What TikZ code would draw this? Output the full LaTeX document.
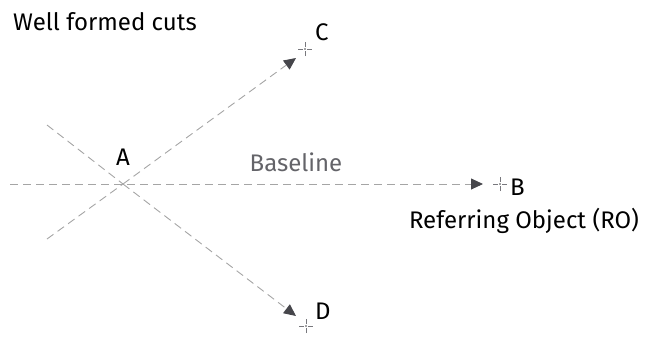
\documentclass[tikz,border=0pt]{standalone}
\usepackage{fontspec}
\setmainfont{Fira Sans}
\usetikzlibrary{arrows.meta,calc}
\definecolor{lg}{RGB}{165,165,165}
\definecolor{cg}{RGB}{120,120,125}
\definecolor{ah}{RGB}{70,70,75}
\definecolor{tg}{RGB}{100,100,105}
\tikzset{
  cut/.style={draw=lg, line width=0.9pt, dash pattern=on 8pt off 5pt},
  tipped/.style={cut, -{Triangle[length=12pt,width=11pt,fill=ah,color=ah]}},
  lbl/.style={font=\fontsize{24}{28}\selectfont, text=black, inner sep=0pt}
}
\newcommand{\crossmark}[1]{%
  \draw[cg, line width=0.8pt] ($(#1)+(-7pt,0)$) -- ($(#1)+(-2pt,0)$) ($(#1)+(2pt,0)$) -- ($(#1)+(7pt,0)$)
    ($(#1)+(0,-7pt)$) -- ($(#1)+(0,-2pt)$) ($(#1)+(0,2pt)$) -- ($(#1)+(0,7pt)$);
  \fill[ah] (#1) circle (0.9pt);}
\begin{document}
\begin{tikzpicture}[x=1pt,y=-1pt]
\useasboundingbox (0,0) rectangle (657,338);
\coordinate (A) at (123,184);
\coordinate (Lb) at (10,184);
\coordinate (Bt) at (483,184);
\coordinate (B) at (500,184);
\coordinate (Ct) at (296,58);
\coordinate (C) at (305,49);
\coordinate (Dt) at (296,316);
\coordinate (D) at (306,326);
\coordinate (CL) at (47,239);
\coordinate (DL) at (47,125);
\draw[cut] (CL) -- (A);
\draw[tipped] (A) -- (Ct);
\draw[cut] (DL) -- (A);
\draw[tipped] (A) -- (Dt);
\draw[tipped] (Lb) -- (Bt);
\crossmark{B}
\crossmark{C}
\crossmark{D}
\node[lbl, anchor=west] (title) at (13,22) {Well formed cuts};
\node[lbl] (la) at (123,157) {A};
\node[lbl, anchor=west] (lb) at (510,187) {B};
\node[lbl, anchor=west] (lc) at (315,32) {C};
\node[lbl, anchor=west] (ld) at (315,311) {D};
\node[lbl, text=tg] (base) at (296,162) {Baseline};
\node[lbl] (ro) at (524,221) {Referring Object (RO)};
\end{tikzpicture}
\end{document}
